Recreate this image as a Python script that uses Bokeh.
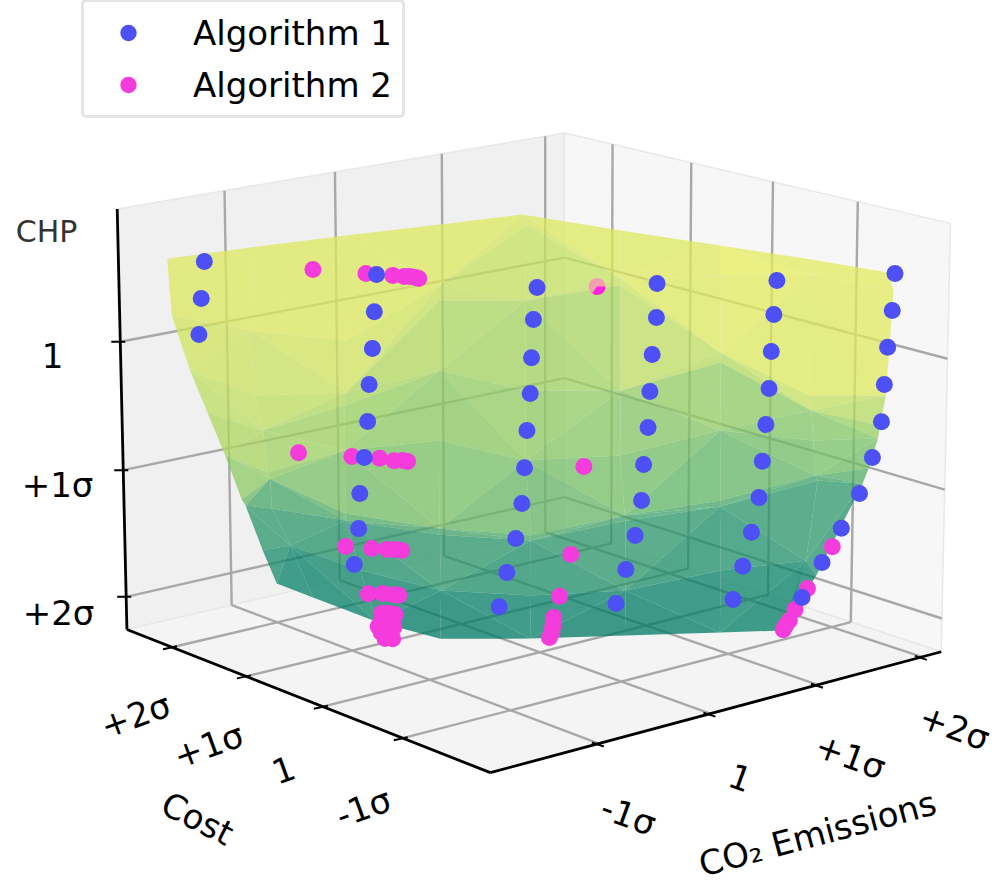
import numpy as np
from bokeh.plotting import figure
from bokeh.embed import file_html
from bokeh.resources import INLINE
from bokeh.models import Range1d, Legend, LegendItem
from bokeh.core.properties import value

# ---- data: (Cost, CO2 Emissions, CHP) in sigma units, 1 = mean ----
cost_ticks = [2, 1, 0, -1]
cost_labels = ["+2σ", "+1σ", "1", "-1σ"]
co2_ticks = [-1, 0, 1, 2]
co2_labels = ["-1σ", "1", "+1σ", "+2σ"]
chp_ticks = [0, 1, 2]
chp_labels = ["1", "+1σ", "+2σ"]

alg1_cost = [2.63, 2.62, 2.63,
             1.36, 1.35, 1.35, 1.34, 1.32, 1.34, 1.36, 1.38, 1.37,
             0.18, 0.32, 0.29, 0.28, 0.28, 0.27, 0.29, 0.34, 0.40, 0.47,
             -0.33, -0.26, -0.25, -0.29, -0.27, -0.27, -0.26, -0.21, -0.15, -0.07,
             -0.87, -0.79, -0.79, -0.83, -0.81, -0.81, -0.80, -0.74, -0.69, -0.59,
             -1.30, -1.30, -1.29, -1.33, -1.34, -1.29, -1.23, -1.12, -1.02, -0.91]
alg1_co2 = [-1.19, -1.23, -1.25,
            -0.50, -0.53, -0.55, -0.59, -0.62, -0.64, -0.67, -0.67, -0.72,
            0.11, 0.18, 0.14, 0.12, 0.09, 0.06, 0.05, 0.03, -0.01, -0.03,
            0.83, 0.88, 0.85, 0.80, 0.80, 0.76, 0.75, 0.73, 0.69, 0.66,
            1.53, 1.57, 1.55, 1.50, 1.49, 1.46, 1.44, 1.42, 1.38, 1.37,
            2.31, 2.29, 2.26, 2.20, 2.17, 2.13, 2.06, 1.98, 1.88, 1.78]
L = [-0.5, -0.22, 0.06, 0.33, 0.61, 0.89, 1.17, 1.45, 1.72, 2.0]
alg1_chp = L[:3] + L[:9] + L + L + L + L

alg2_cost = [1.83, 1.44, 1.25, 1.16, 1.13, 1.07, 1.03,
             1.80, 1.43, 1.24, 1.11, 1.07, 1.02, -0.01,
             1.04, 0.86, 0.76, 0.72, 0.66, -0.29, -1.46,
             0.65, 0.58, 0.50, 0.46, -0.38, -1.48,
             0.93, 0.90, 0.84, 0.78, 0.72, 0.67, 0.62, 0.57, 0.53, 0.49, 0.38, 0.34,
             -0.04, -0.14, -0.24, -0.34, -0.43, -1.12, -1.31, -1.39, -1.46]
alg2_co2 = [-0.75, -0.54, -0.43, -0.39, -0.36, -0.35, -0.35,
            -0.92, -0.69, -0.57, -0.53, -0.48, -0.47, 0.40,
            -1.02, -0.91, -0.84, -0.80, -0.78, 0.07, 1.61,
            -1.09, -1.01, -0.97, -0.95, -0.10, 1.36,
            -0.78, -0.74, -0.72, -0.88, -0.82, -0.99, -0.93, -0.92, -1.06, -1.02, -1.13, -1.09,
            0.10, 0.02, -0.06, -0.14, -0.23, 1.54, 1.33, 1.23, 1.15]
alg2_chp = [-0.5] * 7 + [0.89] * 7 + [1.45] * 7 + [1.72] * 6 + [2.0] * 21
# the one Algorithm 2 point that lies behind the surface
alg2_hidden = (-0.10, 0.45, -0.5)

surf_cost = [[2.91, 2.37, 1.85, 1.36, 0.87, 0.54, 2.52, 1.82, 2.00],
             [2.42, 1.38, 0.88, 0.80, 0.26, 1.66, 2.31, 2.08, 1.78],
             [2.27, 0.46, 0.66, 1.65, 1.33, 0.76, 1.64, 1.29, 1.06],
             [2.28, 1.62, 3.13, 2.05, 1.39, 0.09, 0.82, 0.57, 0.50],
             [2.69, 4.19, 2.83, 1.30, 0.46, -0.38, 0.22, 0.00, 0.04],
             [0.95, 1.03, 2.73, 0.89, 0.24, -0.42, 0.17, -0.38, -0.39],
             [0.01, -1.84, -1.70, 0.75, 0.30, -0.44, 0.13, -0.45, -0.81],
             [-0.84, -2.23, -2.50, -0.30, -0.28, -0.66, 0.20, -0.95, -1.22],
             [-1.90, -1.72, -2.87, -2.32, -1.01, -0.92, -0.39, -1.05, -1.23]]
surf_co2 = [[-1.34, -1.65, -1.83, -2.00, -2.17, -2.25, -0.93, -1.24, -1.00],
            [-0.91, -1.61, -1.90, -1.89, -2.21, -1.27, -0.83, -0.82, -0.82],
            [-0.15, -1.39, -1.26, -0.60, -0.82, -1.21, -0.61, -0.72, -0.74],
            [0.73, 0.26, 1.33, 0.56, 0.09, -0.84, -0.32, -0.49, -0.55],
            [1.82, 2.96, 1.95, 0.83, 0.21, -0.36, 0.08, -0.08, -0.06],
            [1.47, 1.53, 2.83, 1.43, 0.93, 0.47, 0.93, 0.51, 0.51],
            [1.69, 0.22, 0.34, 2.30, 1.94, 1.36, 1.81, 1.36, 1.07],
            [1.88, 0.72, 0.51, 2.35, 2.39, 2.10, 2.84, 1.78, 1.34],
            [1.73, 1.94, 0.90, 1.32, 2.42, 2.41, 2.80, 1.80, 1.32]]
surf_chp = [[-0.5, -0.2, 0.1, 0.3, 0.5, 0.75, 1.45, 1.6, 1.95],
            [-0.6, -0.25, 0.1, 0.35, 0.5, 1.0, 1.45, 1.7, 2.05],
            [-0.6, -0.3, 0.15, 0.55, 0.8, 1.1, 1.45, 1.75, 2.1],
            [-0.55, -0.25, 0.3, 0.55, 0.9, 1.15, 1.45, 1.8, 2.15],
            [-0.4, 0.1, 0.35, 0.62, 0.9, 1.2, 1.45, 1.8, 2.15],
            [-0.6, -0.2, 0.35, 0.65, 0.95, 1.2, 1.45, 1.8, 2.15],
            [-0.6, -0.9, -0.3, 0.55, 0.95, 1.25, 1.5, 1.8, 2.15],
            [-0.6, -0.9, -0.1, 0.75, 1.0, 1.15, 1.5, 1.7, 2.1],
            [-0.7, -0.5, -0.1, 0.3, 0.85, 1.1, 1.4, 1.8, 2.1]]

# ---- colour ramp of the surface as seen on the page ----
ramp_chp = [-0.85, -0.78, -0.3, 0.2, 0.6, 1.0, 1.3, 1.6, 1.9, 2.2]
ramp_r = [241, 231, 226, 205, 178, 150, 115, 90, 66, 48]
ramp_g = [244, 238, 235, 228, 218, 205, 186, 172, 158, 146]
ramp_b = [126, 131, 132, 133, 134, 137, 139, 140, 138, 132]
SURF_ALPHA = 0.75
BG = 243

# ---- camera fitted to the drawn box ----
cost_lo, cost_hi, co2_lo, co2_hi, chp_top, chp_bot = -2.05, 2.63, -1.94, 2.19, -1.02, 2.26
anchors = [((cost_lo, co2_lo, chp_bot), (492, 772)), ((cost_hi, co2_lo, chp_bot), (127, 629)),
           ((cost_lo, co2_hi, chp_bot), (942, 650)), ((cost_hi, co2_hi, chp_bot), (563, 527)),
           ((cost_hi, co2_lo, chp_top), (117, 208)), ((cost_hi, co2_hi, chp_top), (564, 133)),
           ((cost_lo, co2_hi, chp_top), (950, 223)),
           ((2, co2_lo, chp_bot), (172, 647)), ((1, co2_lo, chp_bot), (245, 676)),
           ((0, co2_lo, chp_bot), (322, 706)), ((-1, co2_lo, chp_bot), (403, 737)),
           ((cost_lo, -1, chp_bot), (597, 744)), ((cost_lo, 0, chp_bot), (708, 714)),
           ((cost_lo, 1, chp_bot), (817, 685)), ((cost_lo, 2, chp_bot), (922, 656)),
           ((cost_hi, co2_lo, 0), (119, 341)), ((cost_hi, co2_lo, 1), (123, 470)),
           ((cost_hi, co2_lo, 2), (125, 596)), ((cost_hi, co2_hi, 0), (564, 257)),
           ((cost_hi, co2_hi, 1), (564, 378)), ((cost_hi, co2_hi, 2), (564, 497)),
           ((cost_lo, co2_hi, 0), (947, 358)), ((cost_lo, co2_hi, 1), (944, 489)),
           ((cost_lo, co2_hi, 2), (941, 618))]
A = []
for (X, Y, Z), (u, v) in anchors:
    A.append([X, Y, Z, 1, 0, 0, 0, 0, -u * X, -u * Y, -u * Z, -u])
    A.append([0, 0, 0, 0, X, Y, Z, 1, -v * X, -v * Y, -v * Z, -v])
P = np.linalg.svd(np.array(A, float))[2][-1].reshape(3, 4)


def proj(c, o, z):
    c, o, z = np.broadcast_arrays(np.asarray(c, float), np.asarray(o, float), np.asarray(z, float))
    h = P @ np.stack([c.ravel(), o.ravel(), z.ravel(), np.ones(c.size)])
    return (h[0] / h[2]).tolist(), (h[1] / h[2]).tolist()


def segs(items):
    xs, ys = [], []
    for a, b in items:
        x, y = proj(*zip(a, b))
        xs.append(x)
        ys.append(y)
    return xs, ys


FONT = value("DejaVu Sans")
p = figure(width=995, height=883, output_backend="svg", toolbar_location=None,
           x_range=Range1d(0, 995), y_range=Range1d(883, 0),
           x_axis_location=None, y_axis_location=None, min_border=0)
p.grid.visible = False
p.outline_line_color = None
p.background_fill_color = "white"
p.border_fill_color = "white"

# panes
panes = [([cost_hi] * 4, [co2_lo, co2_hi, co2_hi, co2_lo], [chp_top, chp_top, chp_bot, chp_bot], "#f0f0f0"),
         ([cost_hi, cost_lo, cost_lo, cost_hi], [co2_hi] * 4, [chp_top, chp_top, chp_bot, chp_bot], "#f7f7f7"),
         ([cost_hi, cost_lo, cost_lo, cost_hi], [co2_lo, co2_lo, co2_hi, co2_hi], [chp_bot] * 4, "#f4f4f4")]
for c, o, z, col in panes:
    x, y = proj(c, o, z)
    p.patch(x, y, fill_color=col, line_color="#e8e8e8", line_width=1.5)

# grid
g = []
for o in co2_ticks:
    g.append(((cost_hi, o, chp_top), (cost_hi, o, chp_bot)))
    g.append(((cost_hi, o, chp_bot), (cost_lo, o, chp_bot)))
for c in cost_ticks:
    g.append(((c, co2_hi, chp_top), (c, co2_hi, chp_bot)))
    g.append(((c, co2_hi, chp_bot), (c, co2_lo, chp_bot)))
for z in chp_ticks:
    g.append(((cost_hi, co2_lo, z), (cost_hi, co2_hi, z)))
    g.append(((cost_hi, co2_hi, z), (cost_lo, co2_hi, z)))
gx, gy = segs(g)
p.multi_line(gx, gy, line_color="#a8a8a8", line_width=2.4)

hx, hy = proj(*alg2_hidden)
MAGENTA, BLUE = "#f43cdc", "#4c50f5"

# surface
sx, sy = proj(surf_cost, surf_co2, surf_chp)
n_c, n_r = np.shape(surf_chp)
sx = np.array(sx).reshape(n_c, n_r)
sy = np.array(sy).reshape(n_c, n_r)
sz = np.array(surf_chp)
tx, ty, tc = [], [], []
for i in range(n_c - 1):
    for j in range(n_r - 1):
        a, b, c, d = (i, j), (i + 1, j), (i + 1, j + 1), (i, j + 1)
        tris = [(a, b, c), (a, c, d)] if (i + j) % 2 == 0 else [(a, b, d), (b, c, d)]
        for t in tris:
            tx.append([sx[q] for q in t])
            ty.append([sy[q] for q in t])
            m = np.mean([sz[q] for q in t])
            rgb = [np.interp(m, ramp_chp, r) for r in (ramp_r, ramp_g, ramp_b)]
            base = [int(np.clip((v - (1 - SURF_ALPHA) * BG) / SURF_ALPHA, 0, 255)) for v in rgb]
            tc.append("#%02x%02x%02x" % tuple(base))
p.patches(tx, ty, fill_color=tc, fill_alpha=SURF_ALPHA, line_color=None)

# points
x2, y2 = proj(alg2_cost, alg2_co2, alg2_chp)
x1, y1 = proj(alg1_cost, alg1_co2, alg1_chp)
r2 = p.scatter(x2, y2, size=17, fill_color=MAGENTA, line_color=None)
r1 = p.scatter(x1, y1, size=17, fill_color=BLUE, line_color=None)
p.scatter(hx, hy, size=17, fill_color="#f3a0b0", line_color=None)
p.wedge(hx, hy, radius=8.5, start_angle=np.radians(235), end_angle=np.radians(360),
        fill_color="#ff20e0", line_color=None)

# black axes
ax = [((cost_hi, co2_lo, chp_top), (cost_hi, co2_lo, chp_bot)),
      ((cost_hi, co2_lo, chp_bot), (cost_lo, co2_lo, chp_bot)),
      ((cost_lo, co2_lo, chp_bot), (cost_lo, co2_hi, chp_bot))]
ax_x, ax_y = segs(ax)
p.multi_line(ax_x, ax_y, line_color="black", line_width=2.8)

# ticks
tk_x, tk_y = [], []
for z in chp_ticks:
    x, y = proj(cost_hi, co2_lo, z)
    tk_x.append([x[0] - 9, x[0] + 5]); tk_y.append([y[0], y[0]])
for c in cost_ticks:
    x, y = proj(c, co2_lo, chp_bot)
    tk_x.append([x[0] - 9, x[0] + 5]); tk_y.append([y[0] + 2, y[0] - 1])
for o in co2_ticks:
    x, y = proj(cost_lo, o, chp_bot)
    tk_x.append([x[0] - 7, x[0] + 5]); tk_y.append([y[0] - 1, y[0] + 3])
p.multi_line(tk_x, tk_y, line_color="black", line_width=2)

# texts
texts = (
    [(l, x, y, 0) for l, (x, y) in zip(chp_labels, [(52, 355), (57, 484), (58, 612)])]
    + [(l, x, y, 20) for l, (x, y) in zip(cost_labels, [(135, 715), (208, 745), (283, 769), (363, 807)])]
    + [(l, x, y, -20) for l, (x, y) in zip(co2_labels, [(628, 815), (740, 777), (850, 756), (954, 727)])]
    + [("Cost", 197, 818, -27), ("CO₂ Emissions", 817, 833, 15)]
)
p.text([t[1] for t in texts], [t[2] for t in texts], text=[t[0] for t in texts],
       angle=[np.radians(t[3]) for t in texts], text_font=FONT, text_font_size="34px",
       text_align="center", text_baseline="middle", text_color="black")
p.text([46], [231], text=["CHP"], text_font=FONT, text_font_size="30px",
       text_align="center", text_baseline="middle", text_color="#333333")

# legend
leg = Legend(items=[LegendItem(label="Algorithm 1", renderers=[r1]),
                    LegendItem(label="Algorithm 2", renderers=[r2])],
             location=(81, 765), orientation="vertical", margin=0, padding=10,
             spacing=11, glyph_width=68, glyph_height=41, label_height=41, label_standoff=31,
             label_text_font="DejaVu Sans", label_text_font_size="34px", label_text_color="black",
             border_line_color="#cccccc", border_line_width=3, background_fill_alpha=1)
try:
    leg.border_radius = 5
except Exception:
    pass
p.add_layout(leg)

open("out.html", "w").write(file_html(p, INLINE))
